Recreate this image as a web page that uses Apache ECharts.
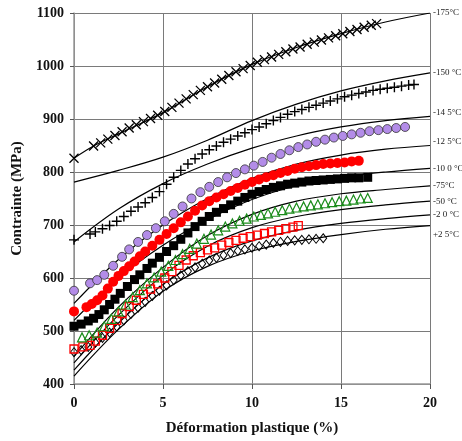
<!DOCTYPE html>
<html>
<head>
<meta charset="utf-8">
<script src="https://cdn.jsdelivr.net/npm/echarts/dist/echarts.min.js"></script>
<style>
  html, body { margin: 0; padding: 0; background: #fff; }
  #mainChart { width: 462px; height: 441px; }
</style>
</head>
<body>
<div id="mainChart"></div>
<script>
// courbes du modele (une par temperature)
var modelNames = ['-175°C', '-150 °C', '-14 5°C', '-12 5°C', '-10 0 °C', '-75°C', '-50 °C', '-2 0 °C', '+2 5°C'];
var model175 = [[0, 826], [1.1, 849], [2.5, 872], [5, 912], [7.5, 961], [10, 1003], [12.5, 1035], [15, 1061], [17.5, 1083], [20, 1100]];
var model150 = [[0, 781], [2.5, 803], [5, 828], [7.5, 860], [10, 897], [12.5, 928], [15, 953], [17.5, 972], [20, 987]];
var model145 = [[0, 668], [2.5, 730], [5, 778], [7.5, 815], [10, 845], [12.5, 868], [15, 885], [17.5, 897], [20, 905]];
var model125 = [[0, 552], [2.5, 635], [5, 700], [7.5, 750], [10, 788], [12.5, 815], [15, 832], [17.5, 843], [20, 850]];
var model100 = [[0, 520], [2.5, 600], [5, 662], [7.5, 710], [10, 748], [12.5, 774], [15, 790], [17.5, 800], [20, 807]];
var model75 = [[0, 452], [2.5, 545], [5, 620], [7.5, 680], [10, 720], [12.5, 745], [15, 759], [17.5, 767], [20, 774]];
var model50 = [[0, 440], [2.5, 530], [5, 605], [7.5, 660], [10, 695], [12.5, 716], [15, 729], [17.5, 738], [20, 745]];
var model20 = [[0, 426], [2.5, 515], [5, 588], [7.5, 638], [10, 670], [12.5, 690], [15, 703], [17.5, 712], [20, 719]];
var model25 = [[0, 415], [2.5, 503], [5, 575], [7.5, 622], [10, 651], [12.5, 669], [15, 682], [17.5, 692], [20, 699]];
var labelShift = [0, 0, -4, -4, 0, 0, 0, 0, 9];

// points experimentaux
var crossData = [[0, 826], [1.1, 849], [1.5, 855], [1.9, 862], [2.3, 869], [2.7, 876], [3.1, 883], [3.5, 889], [3.9, 895], [4.3, 901], [4.7, 907], [5.1, 914], [5.5, 922], [5.9, 930], [6.3, 938], [6.7, 946], [7.1, 954], [7.5, 961], [7.9, 968], [8.3, 975], [8.7, 982], [9.1, 989], [9.5, 995], [9.9, 1001], [10.3, 1007], [10.7, 1012], [11.1, 1017], [11.5, 1022], [11.9, 1027], [12.3, 1032], [12.7, 1036], [13.1, 1041], [13.5, 1045], [13.9, 1049], [14.3, 1053], [14.7, 1057], [15.1, 1061], [15.5, 1065], [15.9, 1069], [16.3, 1073], [16.7, 1077], [17.0, 1080]];
var plusData = [[0, 672], [0.9, 683], [1.2, 687], [1.6, 693], [2.0, 699], [2.4, 707], [2.8, 716], [3.2, 726], [3.6, 734], [4.0, 742], [4.4, 752], [4.8, 763], [5.2, 777], [5.6, 790], [6.0, 803], [6.4, 815], [6.8, 825], [7.2, 834], [7.6, 842], [8.0, 849], [8.4, 856], [8.8, 862], [9.2, 868], [9.6, 874], [10.0, 880], [10.4, 885], [10.8, 891], [11.2, 897], [11.6, 903], [12.0, 909], [12.4, 914], [12.8, 918], [13.2, 922], [13.6, 926], [14.0, 930], [14.4, 934], [14.8, 938], [15.2, 942], [15.6, 945], [16.0, 948], [16.4, 951], [16.8, 954], [17.2, 956], [17.6, 958], [18.0, 960], [18.4, 962], [18.8, 964], [19.1, 965]];
var purpleData = [[0, 576], [0.9, 590], [1.3, 596], [1.7, 606], [2.2, 623], [2.7, 640], [3.1, 654], [3.6, 668], [4.1, 681], [4.6, 694], [5.1, 707], [5.6, 721], [6.1, 735], [6.6, 750], [7.1, 762], [7.6, 772], [8.1, 781], [8.6, 790], [9.1, 798], [9.6, 805], [10.1, 812], [10.6, 819], [11.1, 827], [11.6, 834], [12.1, 841], [12.6, 847], [13.1, 852], [13.6, 857], [14.1, 861], [14.6, 865], [15.1, 868], [15.6, 871], [16.1, 874], [16.6, 877], [17.1, 879], [17.6, 881], [18.1, 883], [18.6, 885]];
var redData = [[0, 537], [0.7, 545], [1.0, 551], [1.3, 558], [1.6, 567], [1.9, 580], [2.2, 593], [2.5, 604], [2.8, 613], [3.1, 622], [3.4, 631], [3.7, 641], [4.0, 650], [4.4, 661], [4.8, 672], [5.2, 683], [5.6, 694], [6.0, 705], [6.4, 716], [6.8, 727], [7.2, 737], [7.6, 745], [8.0, 752], [8.4, 758], [8.8, 764], [9.2, 770], [9.6, 776], [10.0, 781], [10.4, 786], [10.8, 790], [11.2, 794], [11.6, 798], [12.0, 802], [12.4, 806], [12.8, 809], [13.2, 811], [13.6, 813], [14.0, 815], [14.4, 816], [14.8, 817], [15.2, 818], [15.6, 820], [16.0, 821]];
var blackData = [[0, 509], [0.4, 513], [0.8, 519], [1.1, 524], [1.4, 531], [1.7, 540], [2.0, 550], [2.3, 560], [2.6, 571], [3.0, 584], [3.4, 597], [3.7, 606], [4.1, 618], [4.4, 628], [4.8, 639], [5.2, 650], [5.6, 661], [6.0, 673], [6.4, 685], [6.8, 697], [7.2, 707], [7.6, 716], [8.0, 724], [8.4, 731], [8.8, 738], [9.2, 745], [9.6, 752], [10.0, 758], [10.4, 763], [10.8, 767], [11.2, 771], [11.6, 774], [12.0, 777], [12.4, 779], [12.8, 781], [13.2, 783], [13.6, 784], [14.0, 785], [14.4, 786], [14.8, 787], [15.2, 788], [15.6, 789], [16.0, 789], [16.5, 790]];
var greenData = [[0.45, 488], [0.85, 492], [1.3, 497], [1.7, 509], [2.1, 523], [2.5, 537], [2.9, 550], [3.3, 564], [3.7, 577], [4.1, 590], [4.5, 601], [4.9, 612], [5.3, 623], [5.7, 634], [6.1, 645], [6.5, 655], [6.9, 665], [7.3, 674], [7.7, 682], [8.1, 690], [8.5, 697], [8.9, 703], [9.3, 708], [9.7, 712], [10.1, 716], [10.5, 719], [10.9, 722], [11.3, 725], [11.7, 728], [12.1, 731], [12.5, 733], [12.9, 735], [13.3, 737], [13.7, 739], [14.1, 741], [14.5, 743], [14.9, 745], [15.3, 746], [15.7, 748], [16.1, 750], [16.5, 751]];
var squareData = [[0, 466], [0.5, 470], [0.9, 473], [1.2, 481], [1.6, 492], [2.0, 505], [2.4, 520], [2.7, 533], [3.1, 546], [3.5, 558], [3.9, 569], [4.3, 579], [4.7, 589], [5.1, 600], [5.5, 612], [5.9, 624], [6.3, 634], [6.7, 642], [7.1, 648], [7.5, 653], [7.9, 657], [8.3, 662], [8.7, 667], [9.1, 671], [9.5, 675], [9.9, 678], [10.3, 681], [10.7, 684], [11.1, 687], [11.5, 690], [11.9, 693], [12.3, 696], [12.6, 699]];
var diamondData = [[0, 460], [0.4, 464], [0.8, 470], [1.2, 478], [1.6, 487], [2.0, 497], [2.4, 508], [2.8, 520], [3.2, 532], [3.6, 544], [4.0, 555], [4.4, 566], [4.8, 576], [5.2, 586], [5.6, 596], [6.0, 605], [6.4, 613], [6.8, 620], [7.2, 627], [7.6, 633], [8.0, 638], [8.4, 643], [8.8, 647], [9.2, 651], [9.6, 654], [10.0, 657], [10.4, 660], [10.8, 663], [11.2, 666], [11.6, 668], [12.0, 670], [12.4, 671], [12.8, 672], [13.2, 673], [13.6, 674], [14.0, 675]];

var xTicks = [0, 5, 10, 15, 20];
var yTicks = [400, 500, 600, 700, 800, 900, 1000, 1100];

var serif = '"Liberation Serif", "Times New Roman", serif';
var models = [model175, model150, model145, model125, model100, model75, model50, model20, model25];

var series = [];
models.forEach(function (d, i) {
    series.push({
        name: modelNames[i],
        type: 'line',
        data: d,
        smooth: 0.35,
        symbol: 'none',
        silent: true,
        z: 2,
        lineStyle: { color: '#000', width: 1.2 },
        endLabel: {
            show: true,
            formatter: modelNames[i],
            distance: 3,
            offset: [0, labelShift[i]],
            fontFamily: serif,
            fontSize: 9,
            color: '#222'
        }
    });
});

function markers(name, data, symbol, size, style, z) {
    return {
        name: name,
        type: 'line',
        data: data,
        symbol: symbol,
        symbolSize: size,
        showSymbol: true,
        lineStyle: { width: 0, opacity: 0 },
        itemStyle: style,
        z: z
    };
}

series.push(markers('diamant', diamondData, 'diamond', [7, 9], { color: 'transparent', borderColor: '#000', borderWidth: 1 }, 3));
series.push(markers('carre', squareData, 'rect', 8, { color: 'transparent', borderColor: '#ff0000', borderWidth: 1.3 }, 4));
series.push(markers('triangle', greenData, 'triangle', 9, { color: 'transparent', borderColor: '#1a8c1a', borderWidth: 1.2 }, 5));
series.push(markers('noir', blackData, 'rect', 9, { color: '#000' }, 6));
series.push(markers('rouge', redData, 'circle', 10, { color: '#ff0000' }, 7));
series.push(markers('violet', purpleData, 'circle', 9, { color: '#b38ce8', borderColor: '#333', borderWidth: 0.8 }, 8));
series.push(markers('plus', plusData, 'path://M5,0L5,10M0,5L10,5', 10, { color: '#000', borderColor: '#000', borderWidth: 1.4 }, 9));
series.push(markers('croix', crossData, 'path://M0,0L10,10M10,0L0,10', 9, { color: '#000', borderColor: '#000', borderWidth: 1.3 }, 10));

var myChart = echarts.init(document.getElementById('mainChart'), null, { renderer: 'canvas' });

var option = {
    animation: false,
    grid: { left: 74, right: 32, top: 13, bottom: 55 },
    xAxis: {
        type: 'value',
        min: xTicks[0],
        max: xTicks[xTicks.length - 1],
        interval: 5,
        name: 'Déformation plastique (%)',
        nameLocation: 'middle',
        nameGap: 37,
        nameTextStyle: { fontFamily: serif, fontSize: 15, fontWeight: 'bold', color: '#111' },
        axisLine: { lineStyle: { color: '#999', width: 1.5 } },
        axisTick: { show: true, length: 5, lineStyle: { color: '#555' } },
        axisLabel: { margin: 12, fontFamily: serif, fontSize: 14, fontWeight: 'bold', color: '#111' },
        splitLine: { show: true, lineStyle: { color: '#7a7a7a', width: 1 } }
    },
    yAxis: {
        type: 'value',
        min: yTicks[0],
        max: yTicks[yTicks.length - 1],
        interval: 100,
        name: 'Contrainte (MPa)',
        nameLocation: 'middle',
        nameGap: 38,
        nameTextStyle: { fontFamily: serif, fontSize: 15, fontWeight: 'bold', color: '#111' },
        axisLine: { show: true, lineStyle: { color: '#999', width: 1.5 } },
        axisTick: { show: true, length: 4, lineStyle: { color: '#555' } },
        axisLabel: {
            margin: 10, fontFamily: serif, fontSize: 14, fontWeight: 'bold', color: '#111',
            formatter: function (v) { return String(v); }
        },
        splitLine: { show: true, lineStyle: { color: '#7a7a7a', width: 1 } }
    },
    series: series
};

myChart.setOption(option);
</script>
</body>
</html>
